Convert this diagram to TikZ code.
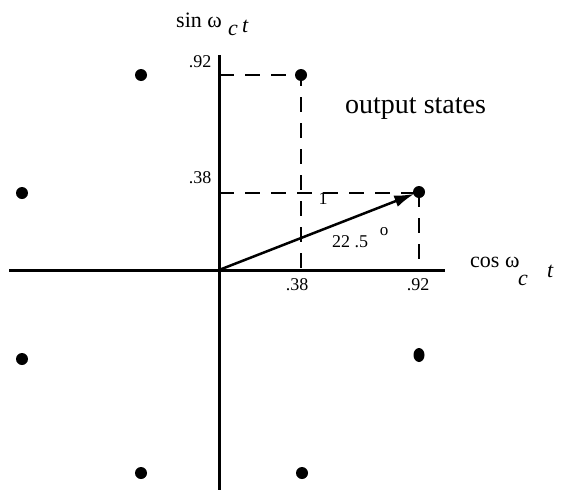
\documentclass[tikz,border=0pt]{standalone}
\usepackage{fontspec}
\setmainfont{Liberation Serif}
\usetikzlibrary{arrows.meta,shapes.geometric}
\tikzset{
  axis/.style={line width=3pt},
  dashline/.style={line width=2.6pt, dash pattern=on 15pt off 11pt},
  vec/.style={line width=2.5pt, -{Latex[length=20pt,width=12pt]}},
  dot/.style={circle, fill, inner sep=0pt, minimum size=12pt},
  lbl/.style={font=\fontsize{18}{18}\selectfont, inner sep=0pt},
  big/.style={font=\fontsize{22}{22}\selectfont, inner sep=0pt, anchor=base west},
}
\begin{document}
\begin{tikzpicture}[x=1pt,y=-1pt]
\useasboundingbox (0,0) rectangle (562,490);
% axes
\coordinate (O) at (219,270);
\coordinate (xl) at (9,270);
\coordinate (xr) at (445,270);
\coordinate (yt) at (219,55);
\coordinate (yb) at (219,490);
\draw[axis] (xl) -- (xr);
\draw[axis] (yt) -- (yb);
% dots
\node[dot] (d1) at (141,75) {};
\node[dot] (d2) at (301,75) {};
\node[dot] (d3) at (22,193) {};
\node[dot] (P) at (419,192) {};
\node[dot] (d5) at (22,359) {};
\node[ellipse, fill, inner sep=0pt, minimum width=11pt, minimum height=14pt] (d6) at (419,355) {};
\node[dot] (d7) at (141,473) {};
\node[dot] (d8) at (302,473) {};
% dashed projections
\coordinate (s92) at (219,75);
\coordinate (s38) at (219,193);
\draw[dashline] (s92) -- (d2.center) -- (d2.center |- O);
\draw[dashline] (s38) -- (s38 -| P.center);
\draw[dashline] (P.center) -- (P.center |- O);
% vector
\draw[vec, shorten >=5pt] (O) -- (P.center);
% tick labels
\node[lbl] (t1) at (200,62) {.92};
\node[lbl] (t2) at (200,178) {.38};
\node[lbl] (t3) at (297,285) {.38};
\node[lbl] (t4) at (418,285) {.92};
\node[lbl] (one) at (323,199) {1};
\node[lbl] (ang) at (350,242) {22 .5};
\node[lbl, font=\fontsize{17}{17}\selectfont] (deg) at (384,232) {o};
\node[inner sep=0pt, anchor=base west, font=\fontsize{28}{28}\selectfont] (out) at (345,113) {output states};
% axis titles
\node[big] (sinl) at (176,27) {sin ω};
\node[big] (sinc) at (228,35) {\itshape c};
\node[big] (sint) at (242,32) {\itshape t};
\node[big] (cosl) at (470,267) {cos ω};
\node[big] (cosc) at (518,285) {\itshape c};
\node[big] (cost) at (547,277) {\itshape t};
\end{tikzpicture}
\end{document}
